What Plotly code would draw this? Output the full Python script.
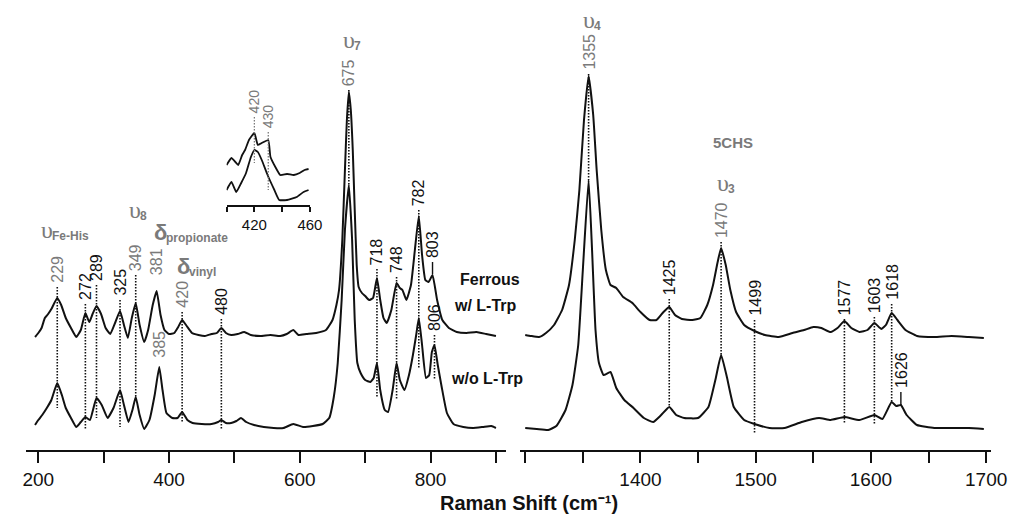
import numpy as np
import plotly.graph_objects as go

# ---------------- spectra (Raman shift in cm-1, intensity in arb. units) ----------------
# Low-frequency window, ferrous protein with L-Trp
low_shift_trp = [195, 200, 205, 210, 215, 220, 229, 235, 242, 250, 258, 265, 272, 278, 283, 289,
                 296, 303, 310, 318, 325, 331, 337, 343, 349, 355, 362, 368, 375, 381, 387, 393,
                 400, 408, 414, 420, 427, 435, 445, 455, 465, 473, 480, 487, 495, 505, 515, 525,
                 540, 555, 570, 580, 590, 598, 610, 625, 640, 650, 656, 660, 665, 669, 672, 675,
                 678, 681, 684, 687, 690, 695, 700, 706, 712, 718, 723, 728, 733, 740, 748, 753,
                 757, 763, 770, 776, 782, 787, 792, 797, 803, 810, 818, 828, 840, 855, 870, 885, 900]
low_int_trp = [113, 117, 122, 132, 136, 141, 152, 145, 132, 122, 113, 120, 137, 128, 136, 144,
               136, 122, 116, 128, 139, 125, 112, 132, 147, 125, 108, 120, 145, 159, 135, 120,
               116, 117, 123, 130, 124, 117, 115, 114, 116, 117, 122, 117, 115, 116, 118, 115,
               114, 115, 114, 116, 120, 115, 116, 117, 120, 130, 145, 160, 210, 280, 330, 358,
               340, 300, 240, 185, 163, 157, 154, 150, 152, 172, 150, 132, 127, 140, 167, 162,
               160, 150, 165, 200, 234, 195, 170, 168, 175, 150, 130, 122, 118, 117, 118, 116, 114]

# Low-frequency window, ferrous protein without L-Trp
low_shift_free = [195, 200, 206, 213, 220, 229, 236, 242, 250, 258, 265, 272, 279, 289, 297, 306,
                  315, 325, 331, 338, 344, 349, 355, 362, 370, 378, 385, 390, 396, 405, 413, 420,
                  428, 436, 450, 465, 475, 480, 487, 495, 503, 510, 518, 530, 545, 560, 575, 590,
                  605, 620, 635, 645, 652, 658, 664, 669, 675, 680, 684, 688, 693, 700, 708, 713,
                  718, 723, 730, 735, 742, 748, 753, 760, 767, 773, 778, 782, 787, 793, 798, 802,
                  806, 811, 817, 825, 835, 850, 865, 880, 893, 900]
low_int_free = [25, 30, 35, 42, 50, 67, 55, 42, 32, 23, 28, 33, 30, 52, 45, 32,
                42, 60, 45, 28, 40, 53, 35, 21, 30, 55, 83, 60, 37, 32, 32, 38,
                30, 27, 26, 26, 28, 30, 27, 27, 29, 32, 28, 25, 23, 22, 22, 26,
                23, 24, 26, 32, 53, 87, 150, 220, 265, 210, 130, 87, 77, 70, 68, 72,
                87, 60, 40, 38, 60, 87, 70, 60, 75, 95, 115, 132, 105, 72, 75, 98,
                105, 85, 63, 37, 26, 23, 22, 23, 24, 22]

# High-frequency window, ferrous protein with L-Trp
high_shift_trp = [1300, 1305, 1312, 1318, 1325, 1332, 1338, 1343, 1347, 1351, 1355, 1359, 1362,
                  1366, 1370, 1374, 1379, 1385, 1393, 1400, 1408, 1414, 1420, 1425, 1430, 1436,
                  1445, 1452, 1458, 1463, 1467, 1470, 1474, 1478, 1483, 1490, 1499, 1508, 1520,
                  1532, 1542, 1550, 1557, 1565, 1571, 1577, 1583, 1590, 1597, 1603, 1609, 1613,
                  1618, 1623, 1630, 1640, 1655, 1670, 1685, 1698]
high_int_trp = [115, 114, 113, 117, 125, 140, 165, 210, 260, 330, 374, 335, 280,
                220, 180, 165, 162, 153, 147, 138, 130, 130, 138, 143, 135, 131,
                130, 132, 145, 165, 188, 202, 185, 160, 138, 125, 119, 115, 113,
                117, 120, 123, 122, 118, 122, 129, 122, 118, 120, 127, 121, 125,
                137, 130, 120, 114, 113, 114, 113, 112]

# High-frequency window, ferrous protein without L-Trp
high_shift_free = [1300, 1310, 1320, 1327, 1335, 1341, 1346, 1350, 1355, 1358, 1361, 1364, 1368,
                   1374, 1379, 1386, 1394, 1403, 1411, 1418, 1425, 1431, 1438, 1450, 1459, 1465,
                   1470, 1475, 1481, 1490, 1499, 1512, 1525, 1540, 1555, 1565, 1577, 1590, 1603,
                   1610, 1618, 1622, 1626, 1631, 1640, 1655, 1670, 1685, 1698]
high_int_free = [22, 21, 20, 24, 40, 65, 105, 180, 270, 200, 120, 87, 75,
                 78, 62, 50, 42, 32, 28, 35, 43, 35, 32, 32, 43, 70,
                 95, 73, 43, 30, 26, 22, 22, 28, 32, 30, 33, 30, 35,
                 31, 48, 44, 45, 35, 25, 22, 22, 22, 21]

# Inset: 400-460 cm-1 region, both samples
inset_shift_trp = [400, 403.5, 406.3, 408.4, 411.2, 413.3, 416.1, 420, 422.5, 425.3, 430, 431.6,
                   435.1, 438.6, 443.5, 448.4, 452.6, 456.1, 459]
inset_int_trp = [40, 47, 43, 40, 50, 55, 65, 72, 60, 62, 65, 48, 38, 30, 31, 30, 32, 35, 36]
inset_shift_free = [400, 403.5, 407, 410.5, 414, 417.5, 420, 422.5, 425.3, 429.5, 434.4, 437.9,
                    443.5, 450.5, 455.4, 459]
inset_int_free = [15, 23, 13, 22, 32, 48, 55, 53, 45, 30, 15, 5, 5, 8, 13, 15]

# ---------------- band labels ----------------
# (shift, text, grey?, label-bottom level, guide end level, guide style)
low_bands = [
    (229, "229", True, 165, 42, "dot"),
    (272, "272", False, 148, 20, "dot"),
    (289, "289", False, 167, 32, "dot"),
    (325, "325", False, 152, 23, "dot"),
    (349, "349", True, 177, 50, "dot"),
    (381, "381", True, 173, None, None),
    (420, "420", True, 140, 27, "dot"),
    (480, "480", False, 133, 20, "dot"),
    (385, "385", True, 90, None, None),
    (675, "675", True, 362, 265, "dot"),
    (718, "718", False, 183, 53, "dot"),
    (748, "748", False, 175, 50, "dot"),
    (782, "782", False, 242, 82, "dot"),
    (803, "803", False, 190, 176, "solid"),
    (806, "806", False, 117, 70, "dot"),
]
high_bands = [
    (1355, "1355", True, 378, 270, "dot"),
    (1425, "1425", False, 153, 43, "dot"),
    (1470, "1470", True, 210, 95, "dot"),
    (1499, "1499", False, 132, 17, "dot"),
    (1577, "1577", False, 133, 27, "dot"),
    (1603, "1603", False, 135, 25, "dot"),
    (1618, "1618", False, 148, 48, "dot"),
    (1626, "1626", False, 60, 45, "solid"),
]
inset_bands = [
    (420, "420", 90, 42),
    (430, "430", 75, 15),
]

# vibrational-mode symbols: (axis, junction shift, level, symbol, subscript)
mode_labels = [
    ("x", 221, 220, "υ", "Fe-His"),
    ("x", 356, 240, "υ", "8"),
    ("x", 395, 218, "δ", "propionate"),
    ("x", 431, 184, "δ", "vinyl"),
    ("x", 683, 410, "υ", "7"),
    ("x2", 1360, 430, "υ", "4"),
    ("x2", 1476, 267, "υ", "3"),
]

low_major = [200, 400, 600, 800]
low_minor = [300, 500, 700, 900]
high_major = [1400, 1500, 1600, 1700]
high_minor = [1300, 1350, 1450, 1550, 1650]
inset_major = [420, 460]
inset_minor = [400, 440]

# ---------------- figure ----------------
W, H = 1034, 517
FONT = "Liberation Sans, Arial, sans-serif"
NU_FONT = "Liberation Serif, Times New Roman, serif"
INK = "#111111"
GREY = "#7a7a7a"

fig = go.Figure()
line_style = dict(color=INK, width=2, shape="spline", smoothing=0.4)
inset_line = dict(color=INK, width=1.8, shape="spline", smoothing=0.4)
fig.add_trace(go.Scatter(x=low_shift_trp, y=low_int_trp, mode="lines", line=line_style,
                         xaxis="x", yaxis="y"))
fig.add_trace(go.Scatter(x=low_shift_free, y=low_int_free, mode="lines", line=line_style,
                         xaxis="x", yaxis="y"))
fig.add_trace(go.Scatter(x=high_shift_trp, y=high_int_trp, mode="lines", line=line_style,
                         xaxis="x2", yaxis="y"))
fig.add_trace(go.Scatter(x=high_shift_free, y=high_int_free, mode="lines", line=line_style,
                         xaxis="x2", yaxis="y"))
fig.add_trace(go.Scatter(x=inset_shift_trp, y=inset_int_trp, mode="lines", line=inset_line,
                         xaxis="x3", yaxis="y3"))
fig.add_trace(go.Scatter(x=inset_shift_free, y=inset_int_free, mode="lines", line=inset_line,
                         xaxis="x3", yaxis="y3"))

shapes = []
annotations = []


def band_marks(bands, xref):
    for shift, text, grey, lab, end, style in bands:
        annotations.append(dict(
            x=shift, y=lab, xref=xref, yref="y", text=text, textangle=-90,
            showarrow=False, xanchor="center", yanchor="bottom",
            font=dict(family=FONT, size=16, color=GREY if grey else INK)))
        if end is not None:
            shapes.append(dict(
                type="line", xref=xref, yref="y", x0=shift, x1=shift, y0=lab - 2, y1=end,
                line=dict(color=INK, width=1.6 if style == "dot" else 1.4,
                          dash="1.5px,1.5px" if style == "dot" else "solid"), layer="above"))


band_marks(low_bands, "x")
band_marks(high_bands, "x2")

for shift, text, lab, end in inset_bands:
    annotations.append(dict(
        x=shift, y=lab, xref="x3", yref="y3", text=text, textangle=-90, showarrow=False,
        xanchor="center", yanchor="bottom", font=dict(family=FONT, size=14, color=GREY)))
    shapes.append(dict(type="line", xref="x3", yref="y3", x0=shift, x1=shift, y0=lab - 2, y1=end,
                       line=dict(color=GREY, width=1.3, dash="1.5px,1.5px"), layer="above"))

# symbol + subscript drawn as two neighbouring texts
for xref, xv, yv, sym, sub in mode_labels:
    sym_font = (dict(family=NU_FONT, size=24, color=GREY) if sym == "υ"
                else dict(family=FONT, size=22, color=GREY))
    annotations.append(dict(x=xv, y=yv, xref=xref, yref="y",
                            text=f"<b>{sym}</b>" if sym == "δ" else sym,
                            showarrow=False, xanchor="right", yanchor="middle", xshift=3,
                            font=sym_font))
    annotations.append(dict(x=xv, y=yv, xref=xref, yref="y", text=f"<b>{sub}</b>",
                            showarrow=False, xanchor="left", yanchor="middle", yshift=-6,
                            xshift=-2, font=dict(family=FONT, size=12, color=GREY)))
annotations.append(dict(x=1480, y=308, xref="x2", yref="y", text="<b>5CHS</b>", showarrow=False,
                        font=dict(family=FONT, size=15, color=GREY)))


# sample labels and axis title (paper coordinates, plot area = top 450 px)
def px(xp):
    return xp / W


def py(yp):
    return (450 - yp) / 450


for text, xp, yp in [("Ferrous", 497, 279), ("w/ L-Trp", 492, 305), ("w/o L-Trp", 494, 378)]:
    annotations.append(dict(x=px(xp), y=py(yp), xref="paper", yref="paper", text=f"<b>{text}</b>",
                            showarrow=False, xanchor="center", yanchor="middle",
                            font=dict(family=FONT, size=16, color=INK)))
annotations.append(dict(x=px(536), y=py(503), xref="paper", yref="paper",
                        text="<b>Raman Shift (cm⁻¹)</b>", showarrow=False,
                        xanchor="center", yanchor="middle",
                        font=dict(family=FONT, size=20, color=INK)))

tick_style = dict(ticks="outside", ticklen=11, tickwidth=2, tickcolor=INK)
axis_common = dict(showline=True, linecolor=INK, linewidth=2, showgrid=False, zeroline=False,
                   tickfont=dict(family=FONT, size=19, color=INK), anchor="y", **tick_style)

fig.update_layout(
    width=W, height=H,
    margin=dict(l=0, r=0, t=0, b=67),
    paper_bgcolor="white", plot_bgcolor="white",
    showlegend=False,
    xaxis=dict(domain=[px(23), px(513)], range=[180.5, 915.5], tickmode="array",
               tickvals=low_major, minor=dict(tickmode="array", tickvals=low_minor, **tick_style),
               **axis_common),
    xaxis2=dict(domain=[px(527), px(1007)], range=[1295.3, 1703.8], tickmode="array",
                tickvals=high_major,
                minor=dict(tickmode="array", tickvals=high_minor, **tick_style),
                **axis_common),
    yaxis=dict(range=[0, 450], visible=False, domain=[0, 1]),
    xaxis3=dict(domain=[px(228), px(313)], range=[400, 460], anchor="y3", showline=True,
                linecolor=INK, linewidth=1.6, ticks="outside", ticklen=5, tickwidth=1.6,
                tickcolor=INK, showgrid=False, zeroline=False, tickmode="array",
                tickvals=inset_major,
                minor=dict(tickmode="array", tickvals=inset_minor, ticks="outside", ticklen=5,
                           tickwidth=1.6, tickcolor=INK),
                tickfont=dict(family=FONT, size=15, color=INK)),
    yaxis3=dict(domain=[py(205), py(85)], range=[0, 120], visible=False, anchor="x3"),
    shapes=shapes,
    annotations=annotations,
)

fig.write_html("out.html")
